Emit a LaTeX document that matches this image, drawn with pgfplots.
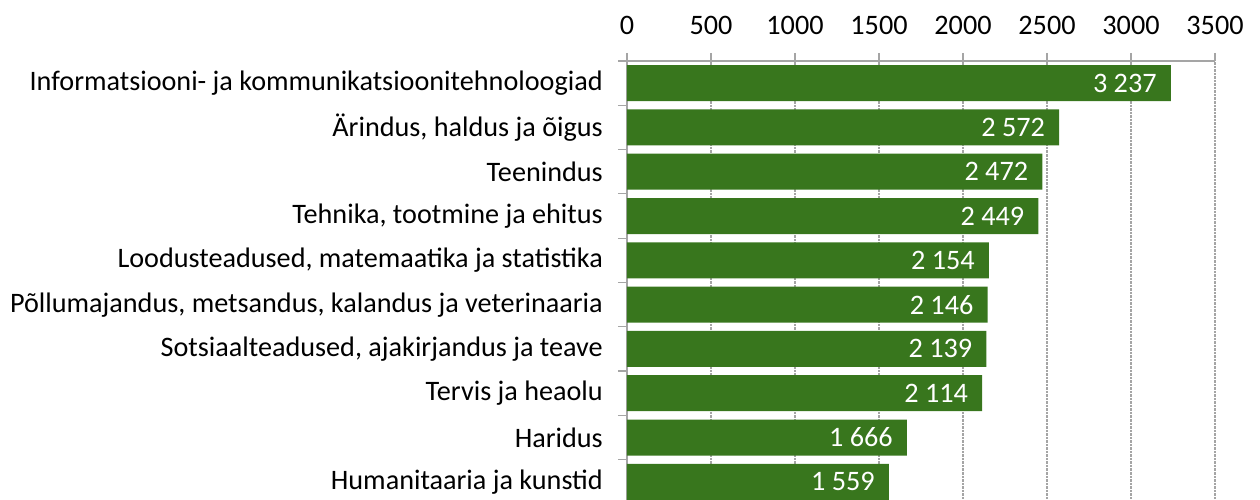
\documentclass[border=0pt]{standalone}
\usepackage{pgfplots}
\pgfplotsset{compat=1.18}
\usepackage{fontspec}
\setmainfont{Carlito}
\definecolor{barg}{RGB}{56,118,29}
\definecolor{axg}{RGB}{165,165,165}
\begin{document}
\fontsize{28.3}{32}\selectfont
\begin{tikzpicture}
\begin{axis}[
  name=ax,
  xbar, bar width=36bp,
  width=588bp, height=439bp, scale only axis,
  xmin=0, xmax=3500, ymin=-0.41, ymax=9.5,
  axis x line*=top, axis y line*=left,
  axis line style={axg, line width=1.2bp},
  xtick={0,500,1000,1500,2000,2500,3000,3500},
  ytick={0,1,2,3,4,5,6,7,8,9},
  yticklabels={Humanitaaria ja kunstid, Haridus, Tervis ja heaolu, {Sotsiaalteadused, ajakirjandus ja teave}, {Põllumajandus, metsandus, kalandus ja veterinaaria}, {Loodusteadused, matemaatika ja statistika}, {Tehnika, tootmine ja ehitus}, Teenindus, {Ärindus, haldus ja õigus}, Informatsiooni- ja kommunikatsioonitehnoloogiad},
  minor ytick={-0.5,0.5,1.5,2.5,3.5,4.5,5.5,6.5,7.5,8.5,9.5},
  tick align=outside,
  major tick length=8bp, minor tick length=9bp,
  every major y tick/.append style={draw=none},
  tick style={axg, line width=1.2bp},
  xmajorgrids,
  major grid style={axg, densely dotted, line width=1.5bp},
  /pgf/number format/assume math mode=true,
  /pgf/number format/1000 sep={},
  tick label style={font=\fontsize{28.3}{32}\selectfont, text=black},
  yticklabel style={anchor=east, inner sep=0pt, xshift=-16bp},
  xticklabel style={anchor=base, inner sep=0pt, yshift=18bp},
  nodes near coords, point meta=explicit symbolic,
  nodes near coords style={anchor=east, text=white, inner sep=0pt, xshift=-14bp, font=\fontsize{28.3}{32}\selectfont},
]
\addplot[fill=barg, draw=none] coordinates {
(1559,0)[1 559] (1666,1)[1 666] (2114,2)[2 114] (2139,3)[2 139] (2146,4)[2 146]
(2154,5)[2 154] (2449,6)[2 449] (2472,7)[2 472] (2572,8)[2 572] (3237,9)[3 237]};
\end{axis}
\pgfresetboundingbox
\path[use as bounding box] ([xshift=-627bp]ax.south west) rectangle ([xshift=45bp,yshift=61bp]ax.north east);
\end{tikzpicture}
\end{document}
